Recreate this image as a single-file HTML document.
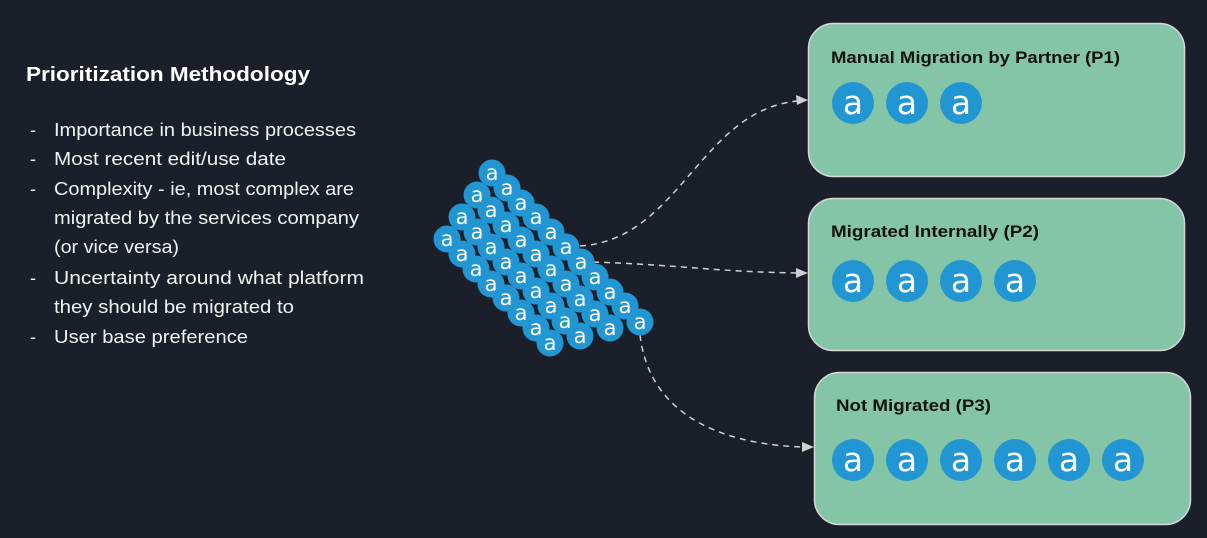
<!DOCTYPE html>
<html><head><meta charset="utf-8"><style>
html,body{margin:0;padding:0;background:#1b1f2a;}
svg{display:block;}
.s circle{fill:#2196d3;}
.s text{fill:#fff;font-family:"DejaVu Sans","Liberation Sans",sans-serif;font-size:21px;text-anchor:middle;}
.b circle{fill:#2196d3;}
.b text{fill:#fff;font-family:"DejaVu Sans","Liberation Sans",sans-serif;font-size:33px;text-anchor:middle;}
.t{font-family:"Liberation Sans",sans-serif;fill:#f2f2f2;font-size:18px;}
.h{font-family:"Liberation Sans",sans-serif;font-weight:bold;fill:#111;font-size:17px;}
</style></head><body>
<svg width="1207" height="538" viewBox="0 0 1207 538">
<rect width="1207" height="538" fill="#1b1f2a"/>
<text x="26" y="81" font-family="Liberation Sans,sans-serif" font-weight="bold" font-size="20" fill="#fff" textLength="284" lengthAdjust="spacingAndGlyphs">Prioritization Methodology</text>
<g class="t">
<text x="30" y="136">-</text><text x="54" y="136" textLength="302" lengthAdjust="spacingAndGlyphs">Importance in business processes</text>
<text x="30" y="165">-</text><text x="54" y="165" textLength="232" lengthAdjust="spacingAndGlyphs">Most recent edit/use date</text>
<text x="30" y="195">-</text><text x="54" y="195" textLength="300" lengthAdjust="spacingAndGlyphs">Complexity - ie, most complex are</text>
<text x="54" y="224" textLength="305" lengthAdjust="spacingAndGlyphs">migrated by the services company</text>
<text x="54" y="253" textLength="125" lengthAdjust="spacingAndGlyphs">(or vice versa)</text>
<text x="30" y="284">-</text><text x="54" y="284" textLength="310" lengthAdjust="spacingAndGlyphs">Uncertainty around what platform</text>
<text x="54" y="313" textLength="240" lengthAdjust="spacingAndGlyphs">they should be migrated to</text>
<text x="30" y="343">-</text><text x="54" y="343" textLength="194" lengthAdjust="spacingAndGlyphs">User base preference</text>
</g>
<rect x="808.5" y="23.5" width="376" height="153" rx="25" fill="#83c5a6" stroke="#d8d8d8" stroke-width="1.5"/>
<rect x="808.5" y="198.5" width="376" height="152" rx="25" fill="#83c5a6" stroke="#d8d8d8" stroke-width="1.5"/>
<rect x="814.5" y="372.5" width="376" height="152" rx="25" fill="#83c5a6" stroke="#d8d8d8" stroke-width="1.5"/>
<text class="h" x="831" y="63" textLength="289" lengthAdjust="spacingAndGlyphs">Manual Migration by Partner (P1)</text>
<text class="h" x="831" y="237" textLength="208" lengthAdjust="spacingAndGlyphs">Migrated Internally (P2)</text>
<text class="h" x="836" y="411" textLength="155" lengthAdjust="spacingAndGlyphs">Not Migrated (P3)</text>
<g class="b">
<circle cx="853" cy="103" r="21"/><text x="853" y="114">a</text>
<circle cx="907" cy="103" r="21"/><text x="907" y="114">a</text>
<circle cx="961" cy="103" r="21"/><text x="961" y="114">a</text>
<circle cx="853" cy="281" r="21"/><text x="853" y="292">a</text>
<circle cx="907" cy="281" r="21"/><text x="907" y="292">a</text>
<circle cx="961" cy="281" r="21"/><text x="961" y="292">a</text>
<circle cx="1015" cy="281" r="21"/><text x="1015" y="292">a</text>
<circle cx="853" cy="460" r="21"/><text x="853" y="471">a</text>
<circle cx="907" cy="460" r="21"/><text x="907" y="471">a</text>
<circle cx="961" cy="460" r="21"/><text x="961" y="471">a</text>
<circle cx="1015" cy="460" r="21"/><text x="1015" y="471">a</text>
<circle cx="1069" cy="460" r="21"/><text x="1069" y="471">a</text>
<circle cx="1123" cy="460" r="21"/><text x="1123" y="471">a</text>
</g>
<g fill="none" stroke="#d0d0d0" stroke-width="1.5" stroke-dasharray="6,5">
<path d="M580 246 C 680 240, 700 110, 798 101"/>
<path d="M593 262 C 680 265, 720 272, 798 273"/>
<path d="M640 335 C 650 420, 730 445, 804 447"/>
</g>
<g fill="#d0d0d0">
<polygon points="808,100 796,95 797,105"/>
<polygon points="808,273 796,268 796,278"/>
<polygon points="814,447 802,442 802,452"/>
</g>
<g class="s">
<circle cx="492" cy="173" r="13.5"/><text x="492" y="180">a</text>
<circle cx="507" cy="188" r="13.5"/><text x="507" y="195">a</text>
<circle cx="521" cy="203" r="13.5"/><text x="521" y="210">a</text>
<circle cx="536" cy="217" r="13.5"/><text x="536" y="224">a</text>
<circle cx="551" cy="232" r="13.5"/><text x="551" y="239">a</text>
<circle cx="566" cy="247" r="13.5"/><text x="566" y="254">a</text>
<circle cx="581" cy="262" r="13.5"/><text x="581" y="269">a</text>
<circle cx="595" cy="277" r="13.5"/><text x="595" y="284">a</text>
<circle cx="610" cy="292" r="13.5"/><text x="610" y="299">a</text>
<circle cx="625" cy="306" r="13.5"/><text x="625" y="313">a</text>
<circle cx="640" cy="322" r="13.5"/><text x="640" y="329">a</text>
<circle cx="477" cy="195" r="13.5"/><text x="477" y="202">a</text>
<circle cx="491" cy="210" r="13.5"/><text x="491" y="217">a</text>
<circle cx="506" cy="225" r="13.5"/><text x="506" y="232">a</text>
<circle cx="521" cy="240" r="13.5"/><text x="521" y="247">a</text>
<circle cx="536" cy="254" r="13.5"/><text x="536" y="261">a</text>
<circle cx="551" cy="269" r="13.5"/><text x="551" y="276">a</text>
<circle cx="566" cy="284" r="13.5"/><text x="566" y="291">a</text>
<circle cx="580" cy="299" r="13.5"/><text x="580" y="306">a</text>
<circle cx="595" cy="314" r="13.5"/><text x="595" y="321">a</text>
<circle cx="610" cy="328" r="13.5"/><text x="610" y="335">a</text>
<circle cx="462" cy="217" r="13.5"/><text x="462" y="224">a</text>
<circle cx="477" cy="232" r="13.5"/><text x="477" y="239">a</text>
<circle cx="491" cy="247" r="13.5"/><text x="491" y="254">a</text>
<circle cx="506" cy="262" r="13.5"/><text x="506" y="269">a</text>
<circle cx="521" cy="276" r="13.5"/><text x="521" y="283">a</text>
<circle cx="536" cy="291" r="13.5"/><text x="536" y="298">a</text>
<circle cx="551" cy="306" r="13.5"/><text x="551" y="313">a</text>
<circle cx="565" cy="321" r="13.5"/><text x="565" y="328">a</text>
<circle cx="580" cy="336" r="13.5"/><text x="580" y="343">a</text>
<circle cx="447" cy="239" r="13.5"/><text x="447" y="246">a</text>
<circle cx="462" cy="254" r="13.5"/><text x="462" y="261">a</text>
<circle cx="476" cy="269" r="13.5"/><text x="476" y="276">a</text>
<circle cx="491" cy="284" r="13.5"/><text x="491" y="291">a</text>
<circle cx="506" cy="298" r="13.5"/><text x="506" y="305">a</text>
<circle cx="521" cy="313" r="13.5"/><text x="521" y="320">a</text>
<circle cx="536" cy="328" r="13.5"/><text x="536" y="335">a</text>
<circle cx="550" cy="343" r="13.5"/><text x="550" y="350">a</text>
</g>
</svg>
</body></html>
